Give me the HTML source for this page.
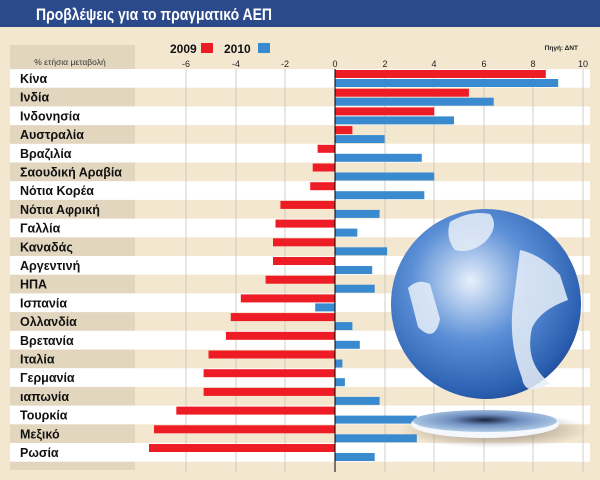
<!DOCTYPE html>
<html><head><meta charset="utf-8"><style>
html,body{margin:0;padding:0;background:#f3e7d0}
svg{display:block}
text{font-family:"Liberation Sans","DejaVu Sans",sans-serif}
.r{fill:#ee1c25}.b{fill:#3a8ad0}.l{font-size:12.5px;font-weight:bold;fill:#111}
</style></head><body>
<svg width="600" height="480" viewBox="0 0 600 480" xmlns="http://www.w3.org/2000/svg">
<defs>
<radialGradient id="gl" cx="0.42" cy="0.38" r="0.7">
<stop offset="0" stop-color="#e8f0fb"/><stop offset="0.45" stop-color="#5b8fd6"/><stop offset="0.85" stop-color="#2a5fb0"/><stop offset="1" stop-color="#1d3f86"/></radialGradient>
<radialGradient id="pl" cx="0.5" cy="0.45" r="0.6">
<stop offset="0" stop-color="#1a2340"/><stop offset="0.4" stop-color="#6f8fc0"/><stop offset="1" stop-color="#bcd6ee"/></radialGradient>
<radialGradient id="sh" cx="0.5" cy="0.5" r="0.5">
<stop offset="0" stop-color="#6a5c50" stop-opacity="0.7"/><stop offset="1" stop-color="#6a5c50" stop-opacity="0"/></radialGradient>
</defs>
<rect width="600" height="480" fill="#f3e7d0"/>
<rect width="600" height="27" fill="#2b4a8c"/>
<text x="36" y="20" font-size="17" font-weight="bold" fill="#fff" textLength="236" lengthAdjust="spacingAndGlyphs">Προβλέψεις για το πραγματικό ΑΕΠ</text>
<rect x="10" y="45" width="125" height="425" fill="#e2d6bf"/>
<text x="70" y="65" font-size="8.5" fill="#333" text-anchor="middle">% ετήσια μεταβολή</text>
<text x="170" y="53" font-size="12" font-weight="bold" fill="#111">2009</text>
<rect x="201" y="43" width="12" height="10" fill="#ee1c25"/>
<text x="224" y="53" font-size="12" font-weight="bold" fill="#111">2010</text>
<rect x="258" y="43" width="12" height="10" fill="#3a8ad0"/>
<text x="578" y="50" font-size="6.5" font-weight="bold" fill="#222" text-anchor="end">Πηγή: ΔΝΤ</text>
<g font-size="9" fill="#222" text-anchor="middle">
<text x="186" y="67">-6</text><text x="236" y="67">-4</text><text x="285" y="67">-2</text><text x="335" y="67">0</text><text x="385" y="67">2</text><text x="434" y="67">4</text><text x="484" y="67">6</text><text x="533" y="67">8</text><text x="583" y="67">10</text>
</g>
<g fill="#fff">
<rect x="10" y="69" width="580" height="18.7"/>
<rect x="10" y="106.4" width="580" height="18.7"/>
<rect x="10" y="143.8" width="580" height="18.7"/>
<rect x="10" y="181.2" width="580" height="18.7"/>
<rect x="10" y="218.6" width="580" height="18.7"/>
<rect x="10" y="256" width="580" height="18.7"/>
<rect x="10" y="293.4" width="580" height="18.7"/>
<rect x="10" y="330.8" width="580" height="18.7"/>
<rect x="10" y="368.2" width="580" height="18.7"/>
<rect x="10" y="405.6" width="580" height="18.7"/>
<rect x="10" y="443" width="580" height="18.7"/>
</g>
<g stroke="#c8c3bb" stroke-width="0.8">
<line x1="186" y1="69" x2="186" y2="472"/><line x1="236" y1="69" x2="236" y2="472"/><line x1="285" y1="69" x2="285" y2="472"/><line x1="385" y1="69" x2="385" y2="472"/><line x1="434" y1="69" x2="434" y2="472"/><line x1="484" y1="69" x2="484" y2="472"/><line x1="533" y1="69" x2="533" y2="472"/><line x1="583" y1="69" x2="583" y2="472"/>
</g>
<g transform="translate(0,69)"><rect class="r" x="335" y="1" width="210.8" height="8"/><rect class="b" x="335" y="10" width="223.2" height="8"/><text class="l" x="20" y="14">Κίνα</text></g>
<g transform="translate(0,87.7)"><rect class="r" x="335" y="1" width="133.9" height="8"/><rect class="b" x="335" y="10" width="158.7" height="8"/><text class="l" x="20" y="14">Ινδία</text></g>
<g transform="translate(0,106.4)"><rect class="r" x="335" y="1" width="99.2" height="8"/><rect class="b" x="335" y="10" width="119" height="8"/><text class="l" x="20" y="14">Ινδονησία</text></g>
<g transform="translate(0,125.1)"><rect class="r" x="335" y="1" width="17.4" height="8"/><rect class="b" x="335" y="10" width="49.6" height="8"/><text class="l" x="20" y="14">Αυστραλία</text></g>
<g transform="translate(0,143.8)"><rect class="r" x="317.6" y="1" width="17.4" height="8"/><rect class="b" x="335" y="10" width="86.8" height="8"/><text class="l" x="20" y="14">Βραζιλία</text></g>
<g transform="translate(0,162.5)"><rect class="r" x="312.7" y="1" width="22.3" height="8"/><rect class="b" x="335" y="10" width="99.2" height="8"/><text class="l" x="20" y="14">Σαουδική Αραβία</text></g>
<g transform="translate(0,181.2)"><rect class="r" x="310.2" y="1" width="24.8" height="8"/><rect class="b" x="335" y="10" width="89.3" height="8"/><text class="l" x="20" y="14">Νότια Κορέα</text></g>
<g transform="translate(0,199.9)"><rect class="r" x="280.4" y="1" width="54.6" height="8"/><rect class="b" x="335" y="10" width="44.6" height="8"/><text class="l" x="20" y="14">Νότια Αφρική</text></g>
<g transform="translate(0,218.6)"><rect class="r" x="275.5" y="1" width="59.5" height="8"/><rect class="b" x="335" y="10" width="22.3" height="8"/><text class="l" x="20" y="14">Γαλλία</text></g>
<g transform="translate(0,237.3)"><rect class="r" x="273" y="1" width="62" height="8"/><rect class="b" x="335" y="10" width="52.1" height="8"/><text class="l" x="20" y="14">Καναδάς</text></g>
<g transform="translate(0,256)"><rect class="r" x="273" y="1" width="62" height="8"/><rect class="b" x="335" y="10" width="37.2" height="8"/><text class="l" x="20" y="14">Αργεντινή</text></g>
<g transform="translate(0,274.7)"><rect class="r" x="265.6" y="1" width="69.4" height="8"/><rect class="b" x="335" y="10" width="39.7" height="8"/><text class="l" x="20" y="14">ΗΠΑ</text></g>
<g transform="translate(0,293.4)"><rect class="r" x="240.8" y="1" width="94.2" height="8"/><rect class="b" x="315.2" y="10" width="19.8" height="8"/><text class="l" x="20" y="14">Ισπανία</text></g>
<g transform="translate(0,312.1)"><rect class="r" x="230.8" y="1" width="104.2" height="8"/><rect class="b" x="335" y="10" width="17.4" height="8"/><text class="l" x="20" y="14">Ολλανδία</text></g>
<g transform="translate(0,330.8)"><rect class="r" x="225.9" y="1" width="109.1" height="8"/><rect class="b" x="335" y="10" width="24.8" height="8"/><text class="l" x="20" y="14">Βρετανία</text></g>
<g transform="translate(0,349.5)"><rect class="r" x="208.5" y="1" width="126.5" height="8"/><rect class="b" x="335" y="10" width="7.4" height="8"/><text class="l" x="20" y="14">Ιταλία</text></g>
<g transform="translate(0,368.2)"><rect class="r" x="203.6" y="1" width="131.4" height="8"/><rect class="b" x="335" y="10" width="9.9" height="8"/><text class="l" x="20" y="14">Γερμανία</text></g>
<g transform="translate(0,386.9)"><rect class="r" x="203.6" y="1" width="131.4" height="8"/><rect class="b" x="335" y="10" width="44.6" height="8"/><text class="l" x="20" y="14">ιαπωνία</text></g>
<g transform="translate(0,405.6)"><rect class="r" x="176.3" y="1" width="158.7" height="8"/><rect class="b" x="335" y="10" width="81.8" height="8"/><text class="l" x="20" y="14">Τουρκία</text></g>
<g transform="translate(0,424.3)"><rect class="r" x="154" y="1" width="181" height="8"/><rect class="b" x="335" y="10" width="81.8" height="8"/><text class="l" x="20" y="14">Μεξικό</text></g>
<g transform="translate(0,443)"><rect class="r" x="149" y="1" width="186" height="8"/><rect class="b" x="335" y="10" width="39.7" height="8"/><text class="l" x="20" y="14">Ρωσία</text></g>
<line x1="335" y1="69" x2="335" y2="472" stroke="#000" stroke-width="1"/>
<ellipse cx="495" cy="430" rx="95" ry="18" fill="url(#sh)"/>
<ellipse cx="485" cy="424" rx="74" ry="14" fill="#f4f7fb"/>
<ellipse cx="485" cy="421" rx="72" ry="11" fill="url(#pl)"/>
<circle cx="486" cy="304" r="95" fill="url(#gl)"/>
<path d="M450 222 q20 -12 40 -8 q10 12 -5 28 q-15 12 -30 8 q-10 -12 -5 -28 z M408 288 q10 -10 22 -4 l10 35 q-5 25 -22 8 z M520 250 q22 5 40 25 l8 25 q-28 10 -36 28 q-8 35 18 55 q-25 15 -28 -5 q-15 -40 -8 -80 z" fill="#e8eef8" opacity="0.85"/>
</svg>
</body></html>
